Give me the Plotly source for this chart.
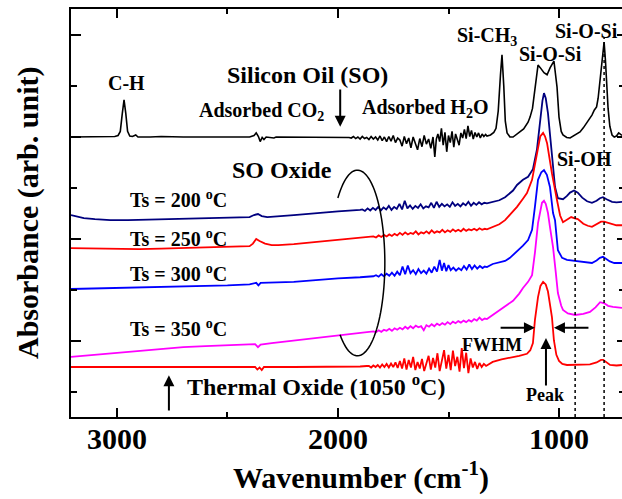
import numpy as np
import plotly.graph_objects as go

# ---------------- data (wavenumber in cm-1, absorbance in arb. units incl. offsets) -------------
wn_so = [3208, 3150, 3100, 3050, 3010, 2995, 2985, 2976, 2968, 2960, 2952, 2942, 2930, 2915, 2905,
         2850, 2800, 2700, 2600, 2500, 2400, 2380, 2370, 2360, 2352, 2343, 2335, 2325, 2290, 2280,
         2200, 2100, 2000, 1950,
         1940, 1930, 1920, 1910, 1900, 1890, 1880, 1870, 1860, 1850, 1840, 1830, 1820, 1810, 1800,
         1790, 1780, 1770, 1760, 1750, 1740, 1730, 1720, 1710, 1700, 1690, 1680, 1670, 1660, 1650,
         1640, 1630, 1620, 1610, 1600, 1590, 1580, 1570, 1562, 1555, 1548, 1540, 1532, 1524, 1516,
         1508, 1500, 1492, 1484, 1476, 1468, 1460, 1452, 1444, 1436, 1428, 1420, 1412, 1404, 1396,
         1388, 1380, 1372, 1364, 1356, 1348, 1340, 1332, 1326,
         1310, 1295, 1285, 1275, 1265, 1258, 1250, 1243, 1235, 1222, 1208, 1190, 1160, 1140, 1131,
         1120, 1109, 1100, 1095, 1085, 1068, 1054, 1040, 1023, 1015, 1009, 1000, 990, 982, 965, 950,
         930, 905, 890, 873, 860, 851, 840, 830, 823, 814, 805, 796, 790, 783, 778, 770, 760, 750,
         740, 730, 720, 715]
abs_so = [5.49, 5.49, 5.50, 5.49, 5.50, 5.52, 5.60, 5.95, 6.22, 5.95, 5.60, 5.51, 5.50, 5.53, 5.49,
          5.49, 5.50, 5.49, 5.49, 5.50, 5.49, 5.52, 5.57, 5.50, 5.40, 5.48, 5.44, 5.49, 5.47, 5.49,
          5.49, 5.49, 5.49, 5.48,
          5.47, 5.50, 5.46, 5.49, 5.45, 5.50, 5.46, 5.48, 5.44, 5.50, 5.45, 5.49, 5.43, 5.51, 5.42,
          5.49, 5.40, 5.50, 5.41, 5.52, 5.38, 5.47, 5.43, 5.31, 5.50, 5.36, 5.47, 5.28, 5.49, 5.34,
          5.24, 5.46, 5.30, 5.52, 5.35, 5.45, 5.27, 5.49, 5.10, 5.45, 5.55, 5.40, 5.66, 5.33, 5.58,
          5.20, 5.52, 5.38, 5.60, 5.29, 5.55, 5.44, 5.33, 5.57, 5.47, 5.64, 5.46, 5.71, 5.50, 5.62,
          5.45, 5.58, 5.49, 5.57, 5.47, 5.55, 5.50, 5.54, 5.51,
          5.53, 5.58, 5.66, 6.00, 6.70, 7.10, 6.50, 5.80, 5.57, 5.49, 5.49, 5.55, 5.65, 5.78, 5.88,
          6.05, 6.41, 6.75, 6.90, 6.85, 6.75, 6.71, 6.85, 6.98, 6.70, 6.47, 5.88, 5.60, 5.53, 5.48, 5.47,
          5.52, 5.59, 5.67, 5.78, 5.85, 5.92, 6.02, 6.08, 6.25, 6.65, 7.10, 7.35, 7.00, 6.30, 6.05, 5.70,
          5.53, 5.49, 5.51, 5.57, 5.53, 5.52]

wn_200 = [3208, 3150, 3100, 3030, 2950, 2850, 2700, 2550, 2400, 2380, 2362, 2345, 2320, 2200, 2100,
          2000, 1900,
          1890, 1878, 1866, 1854, 1842, 1830, 1818, 1806, 1794, 1782, 1770, 1758, 1746, 1734, 1722,
          1710, 1698, 1686, 1674, 1662, 1650, 1638, 1626, 1614, 1602, 1590, 1578, 1566, 1554, 1542,
          1530, 1518, 1506, 1494, 1482, 1470, 1458, 1446, 1434, 1422, 1410, 1398, 1386, 1374, 1362,
          1350, 1338, 1326,
          1300, 1270, 1244, 1222, 1208, 1190, 1163, 1140, 1131, 1118, 1100, 1086, 1075, 1068, 1060,
          1050, 1041, 1032, 1018, 1005, 995, 982, 965, 950, 932, 915, 895, 873, 851, 830, 815, 801,
          785, 770, 760, 740, 715]
abs_200 = [3.96, 3.90, 3.88, 3.86, 3.86, 3.87, 3.88, 3.90, 3.92, 3.96, 3.98, 3.94, 3.92, 3.96, 4.00,
           4.03, 4.06,
           4.07, 4.04, 4.09, 4.05, 4.10, 4.06, 4.12, 4.05, 4.11, 4.07, 4.14, 4.06, 4.12, 4.08, 4.18,
           4.07, 4.24, 4.09, 4.15, 4.08, 4.14, 4.10, 4.17, 4.09, 4.13, 4.11, 4.20, 4.10, 4.22, 4.12,
           4.18, 4.13, 4.17, 4.12, 4.21, 4.14, 4.18, 4.13, 4.19, 4.15, 4.22, 4.14, 4.20, 4.16, 4.21,
           4.17, 4.20, 4.19,
           4.22, 4.25, 4.31, 4.38, 4.44, 4.55, 4.65, 4.71, 4.78, 4.86, 5.24, 5.82, 6.20, 6.35, 6.25,
           5.96, 5.55, 5.24, 4.51, 4.29, 4.28, 4.27, 4.33, 4.40, 4.44, 4.40, 4.30, 4.23, 4.20, 4.24,
           4.29, 4.31, 4.27, 4.23, 4.22, 4.21, 4.22]

wn_250 = [3208, 3100, 3000, 2900, 2800, 2700, 2500, 2400, 2385, 2370, 2355, 2330, 2300, 2270, 2200,
          2100, 2000, 1900, 1855,
          1840, 1828, 1816, 1804, 1792, 1780, 1768, 1756, 1744, 1732, 1720, 1708, 1696, 1684, 1672,
          1660, 1648, 1636, 1624, 1612, 1600, 1588, 1576, 1564, 1552, 1540, 1528, 1516, 1504, 1492,
          1480, 1468, 1456, 1444, 1432, 1420, 1408, 1396, 1384, 1372, 1360, 1348, 1336, 1326,
          1300, 1270, 1244, 1220, 1190, 1163, 1145, 1122, 1100, 1085, 1072, 1063, 1054, 1041, 1032,
          1009, 995, 982, 965, 945, 932, 915, 890, 870, 851, 830, 810, 796, 780, 760, 740, 715]
abs_250 = [3.31, 3.30, 3.29, 3.29, 3.30, 3.31, 3.33, 3.35, 3.40, 3.49, 3.45, 3.40, 3.37, 3.37, 3.39,
           3.43, 3.47, 3.51, 3.53,
           3.54, 3.52, 3.56, 3.53, 3.57, 3.54, 3.58, 3.55, 3.59, 3.56, 3.61, 3.57, 3.62, 3.58, 3.61,
           3.59, 3.64, 3.58, 3.62, 3.60, 3.64, 3.60, 3.66, 3.61, 3.64, 3.62, 3.67, 3.62, 3.66, 3.63,
           3.68, 3.64, 3.67, 3.64, 3.69, 3.65, 3.68, 3.66, 3.69, 3.66, 3.70, 3.67, 3.69, 3.68,
           3.73, 3.78, 3.86, 3.98, 4.12, 4.28, 4.39, 4.65, 5.20, 5.50, 5.57, 5.50, 5.37, 5.00, 4.78,
           4.25, 3.95, 3.82, 3.86, 3.92, 3.90, 3.88, 3.79, 3.75, 3.73, 3.79, 3.83, 3.83, 3.81, 3.77,
           3.76, 3.76]

wn_300 = [3208, 3100, 3000, 2900, 2800, 2700, 2600, 2500, 2400, 2370, 2360, 2350, 2200, 2100, 2000,
          1900, 1855,
          1840, 1828, 1816, 1804, 1792, 1780, 1768, 1756, 1744, 1732, 1720, 1708, 1696, 1684, 1672,
          1660, 1648, 1636, 1624, 1612, 1600, 1588, 1576, 1564, 1552, 1540, 1530, 1520, 1510, 1500,
          1490, 1478, 1466, 1454, 1442, 1430, 1418, 1406, 1394, 1382, 1370, 1358, 1346, 1336, 1326,
          1300, 1267, 1244, 1222, 1190, 1163, 1140, 1122, 1109, 1095, 1080, 1068, 1055, 1041, 1027,
          1018, 1005, 986, 964, 945, 927, 900, 875, 851, 830, 815, 801, 785, 770, 750, 715]
abs_300 = [2.51, 2.52, 2.52, 2.53, 2.54, 2.55, 2.57, 2.58, 2.60, 2.63, 2.58, 2.63, 2.65, 2.69, 2.72,
           2.74, 2.75,
           2.76, 2.78, 2.75, 2.80, 2.76, 2.81, 2.77, 2.83, 2.77, 2.85, 2.78, 2.95, 2.80, 2.97, 2.82,
           2.88, 2.80, 2.90, 2.82, 2.87, 2.81, 2.91, 2.83, 2.95, 2.85, 3.08, 2.87, 3.02, 2.86, 2.98,
           2.88, 2.93, 2.87, 2.92, 2.88, 2.96, 2.89, 2.99, 2.90, 2.97, 2.91, 2.96, 2.92, 2.95, 2.94,
           3.00, 3.03, 3.06, 3.12, 3.24, 3.36, 3.47, 3.67, 4.12, 4.65, 4.80, 4.84, 4.75, 4.51, 4.00,
           3.86, 3.27, 3.12, 3.08, 3.07, 3.06, 3.04, 3.02, 3.02, 3.07, 3.12, 3.14, 3.10, 3.05, 3.02, 3.02]

wn_350 = [3208, 3100, 3000, 2900, 2800, 2700, 2600, 2500, 2400, 2375, 2362, 2350, 2300, 2200, 2100,
          2000, 1900, 1855,
          1840, 1828, 1816, 1804, 1792, 1780, 1768, 1756, 1744, 1732, 1720, 1708, 1696, 1684, 1672,
          1660, 1648, 1636, 1624, 1612, 1600, 1588, 1576, 1564, 1552, 1540, 1528, 1516, 1504, 1492,
          1480, 1468, 1456, 1444, 1432, 1420, 1408, 1396, 1384, 1372, 1360, 1348, 1336, 1326,
          1299, 1270, 1240, 1208, 1180, 1163, 1140, 1122, 1109, 1095, 1077, 1068, 1060, 1050, 1040,
          1027, 1015, 1005, 990, 982, 960, 927, 890, 860, 835, 814, 795, 778, 756, 715]
abs_350 = [1.18, 1.22, 1.26, 1.30, 1.34, 1.37, 1.39, 1.41, 1.43, 1.43, 1.37, 1.42, 1.45, 1.50, 1.55,
           1.59, 1.64, 1.67,
           1.68, 1.66, 1.70, 1.67, 1.71, 1.69, 1.73, 1.69, 1.74, 1.71, 1.75, 1.72, 1.77, 1.73, 1.78,
           1.74, 1.79, 1.76, 1.78, 1.70, 1.80, 1.77, 1.82, 1.78, 1.83, 1.80, 1.84, 1.81, 1.86, 1.82,
           1.87, 1.84, 1.88, 1.85, 1.89, 1.86, 1.90, 1.87, 1.92, 1.89, 1.95, 1.90, 1.93, 1.92,
           2.00, 2.08, 2.18, 2.28, 2.42, 2.53, 2.65, 2.78, 3.22, 3.80, 4.20, 4.24, 4.18, 4.00, 3.70,
           3.33, 2.85, 2.43, 2.18, 2.10, 2.03, 2.00, 2.02, 2.06, 2.15, 2.25, 2.23, 2.18, 2.16, 2.14]

wn_th = [3208, 3000, 2800, 2600, 2400, 2375, 2365, 2355, 2345, 2335, 2200, 2000, 1900, 1870,
         1860, 1850, 1840, 1830, 1820, 1810, 1800, 1790, 1780, 1770, 1760, 1750, 1740, 1730, 1720,
         1710, 1700, 1690, 1680, 1670, 1660, 1650, 1640, 1630, 1620, 1610, 1600, 1590, 1580, 1570,
         1560, 1550, 1540, 1530, 1520, 1510, 1500, 1490, 1480, 1470, 1460, 1450, 1440, 1430, 1420,
         1410, 1400, 1390, 1380, 1370, 1360, 1350, 1340, 1330,
         1300, 1260, 1222, 1180, 1145, 1130, 1118, 1109, 1095, 1084, 1072, 1060, 1050, 1040, 1032,
         1023, 1012, 1000, 985, 964, 900, 860, 830, 810, 800, 785, 769, 740, 715]
abs_th = [0.98, 0.98, 0.98, 0.98, 0.98, 0.98, 0.93, 0.97, 0.92, 0.98, 0.98, 0.98, 0.99, 1.00,
          1.00, 0.97, 1.01, 0.98, 1.02, 0.97, 1.03, 0.98, 1.04, 0.97, 1.05, 0.98, 1.07, 0.96, 1.10,
          0.95, 1.15, 0.93, 1.12, 0.97, 1.18, 0.92, 1.08, 0.95, 1.14, 0.90, 1.06, 1.20, 0.93, 1.16,
          0.97, 1.25, 0.90, 1.10, 1.31, 0.95, 1.22, 0.92, 1.30, 1.00, 1.18, 0.89, 1.35, 0.96, 1.26,
          0.86, 1.15, 0.97, 1.08, 0.94, 1.06, 0.98, 1.04, 1.00,
          1.08, 1.13, 1.16, 1.20, 1.24, 1.31, 1.45, 1.90, 2.35, 2.57, 2.65, 2.60, 2.46, 2.15, 1.96,
          1.50, 1.22, 1.10, 1.04, 1.02, 1.02, 1.03, 1.07, 1.12, 1.12, 1.07, 1.02, 1.01, 1.02]

series = [
    ("Silicon Oil (SO)", wn_so, abs_so, "#000000", 1.6),
    ("Ts = 200 °C", wn_200, abs_200, "#00007F", 1.8),
    ("Ts = 250 °C", wn_250, abs_250, "#FF0000", 1.8),
    ("Ts = 300 °C", wn_300, abs_300, "#0000FF", 1.8),
    ("Ts = 350 °C", wn_350, abs_350, "#FF00FF", 1.8),
    ("Thermal Oxide", wn_th, abs_th, "#FF0000", 1.8),
]

x_ticks = [3000, 2000, 1000]
x_minor = [2500, 1500]
y_major = [1.5, 3.5, 5.5, 7.5]
y_minor = [0.5, 2.5, 4.5, 6.5]

FONT = "Liberation Serif"

fig = go.Figure()
for name, xs, ys, col, w in series:
    fig.add_trace(go.Scatter(x=xs, y=ys, mode="lines", name=name,
                             line=dict(color=col, width=w), hoverinfo="skip"))
# invisible trace so the right-hand tick axis is drawn
fig.add_trace(go.Scatter(x=[2000], y=[4], yaxis="y2", mode="markers",
                         marker=dict(opacity=0), showlegend=False, hoverinfo="skip"))

fig.update_layout(
    width=622, height=499,
    margin=dict(l=71, r=0, t=9, b=82, pad=0),
    paper_bgcolor="white", plot_bgcolor="white",
    showlegend=False,
    xaxis=dict(range=[3208, 715], showline=True, linecolor="black", linewidth=2,
               mirror="ticks", ticks="inside", ticklen=9, tickwidth=2, tickcolor="black",
               tickvals=x_ticks, ticktext=["<b>%d</b>" % v for v in x_ticks],
               ticklabelstandoff=-6,
               tickfont=dict(family=FONT, size=30, color="black"),
               minor=dict(tickvals=x_minor, ticks="inside", ticklen=5, tickwidth=2,
                          tickcolor="black", showgrid=False),
               showgrid=False, zeroline=False),
    yaxis=dict(range=[0, 8], showline=True, linecolor="black", linewidth=2, mirror=False,
               ticks="inside", ticklen=10, tickwidth=2, tickcolor="black",
               tickvals=y_major, showticklabels=False,
               minor=dict(tickvals=y_minor, ticks="inside", ticklen=6, tickwidth=2,
                          tickcolor="black", showgrid=False),
               showgrid=False, zeroline=False),
    yaxis2=dict(overlaying="y", side="right", range=[0, 8], showline=False,
                ticks="inside", ticklen=5, tickwidth=2, tickcolor="black",
                tickvals=y_major, showticklabels=False,
                minor=dict(tickvals=y_minor, ticks="inside", ticklen=3, tickwidth=2,
                           tickcolor="black", showgrid=False),
                showgrid=False, zeroline=False),
)

# dotted reference lines
fig.add_shape(type="line", x0=927, x1=927, y0=0, y1=4.88, xref="x", yref="y",
              line=dict(color="black", width=1.5, dash="dot"))
fig.add_shape(type="line", x0=796, x1=796, y0=0, y1=7.45, xref="x", yref="y",
              line=dict(color="black", width=1.5, dash="dot"))

# open ellipse around the SO-oxide baselines
cx, cy, rx, ry = 1912, 3.02, 124, 1.82
th = np.radians(np.linspace(224.4, 489.3, 80))
pts = [(cx - rx * np.cos(t), cy - ry * np.sin(t)) for t in th]
path = "M " + " L ".join(f"{a:.2f},{b:.4f}" for a, b in pts)
fig.add_shape(type="path", path=path, xref="x", yref="y", line=dict(color="black", width=1.5))


def txt(text, x, y, size, xanchor="left"):
    fig.add_annotation(text="<b>" + text + "</b>", x=x, y=y, xref="x", yref="y", showarrow=False,
                       xanchor=xanchor, yanchor="middle",
                       font=dict(family=FONT, size=size, color="black"))


txt("C-H", 2959, 6.55, 20, "center")
txt("Silicon Oil (SO)", 2511, 6.71, 24)
txt("Adsorbed CO<sub>2</sub>", 2638, 6.0, 20)
txt("Adsorbed H<sub>2</sub>O", 1900, 6.04, 20)
txt("Si-CH<sub>3</sub>", 1470, 7.47, 20)
txt("Si-O-Si", 1190, 7.12, 20)
txt("Si-O-Si", 1027, 7.57, 20)
txt("Si-OH", 1018, 5.06, 20)
txt("SO Oxide", 2489, 4.84, 24)
txt("Ts = 200 <sup>o</sup>C", 2950, 4.28, 20)
txt("Ts = 250 <sup>o</sup>C", 2950, 3.51, 20)
txt("Ts = 300 <sup>o</sup>C", 2950, 2.82, 20)
txt("Ts = 350 <sup>o</sup>C", 2950, 1.75, 20)
txt("Thermal Oxide (1050 <sup>o</sup>C)", 2692, 0.63, 24)
txt("FWHM", 1448, 1.41, 18)
txt("Peak", 1158, 0.43, 18)


def arrow(x0, y0, x1, y1):
    fig.add_annotation(x=x1, y=y1, ax=x0, ay=y0, xref="x", yref="y", axref="x", ayref="y",
                       text="", showarrow=True, arrowhead=2, arrowsize=1.1, arrowwidth=2,
                       arrowcolor="black")


arrow(1990, 6.45, 1990, 5.69)      # adsorbed CO2 marker
arrow(2765, 0.10, 2765, 0.82)      # thermal oxide marker
arrow(1271, 1.75, 1109, 1.75)      # FWHM left
arrow(860, 1.75, 1023, 1.75)       # FWHM right
arrow(1059, 0.59, 1059, 1.55)      # peak

# axis titles
fig.add_annotation(text="<b>Wavenumber (cm<sup>-1</sup>)</b>", x=0.526, y=-0.143,
                   xref="paper", yref="paper",
                   showarrow=False, xanchor="center", yanchor="middle",
                   font=dict(family=FONT, size=30, color="black"))
fig.add_annotation(text="<b>Absorbance (arb. unit)</b>", x=-0.078, y=0.50,
                   xref="paper", yref="paper",
                   showarrow=False, xanchor="center", yanchor="middle", textangle=-90,
                   font=dict(family=FONT, size=30, color="black"))

fig.write_html("out.html")
